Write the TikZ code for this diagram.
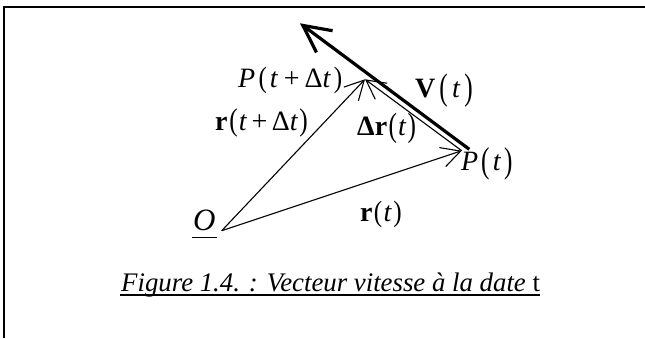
\documentclass[tikz,border=0pt]{standalone}
\usepackage{fontspec}
\setmainfont{Liberation Serif}
\usepackage{graphicx}
\usetikzlibrary{arrows.meta}
% tall parentheses: #1 = vertical scale, #2 = lowering
\newcommand{\lp}[2]{\raisebox{-#2}{\scalebox{0.9}[#1]{(}}}
\newcommand{\rp}[2]{\raisebox{-#2}{\scalebox{0.9}[#1]{)}}}
\begin{document}
\begin{tikzpicture}[x=1pt,y=-1pt,
  lbl/.style={inner sep=0pt, anchor=base west, font=\fontsize{28pt}{33pt}\selectfont},
  captxt/.style={inner sep=0pt, anchor=base west, font=\fontsize{26.8pt}{32pt}\selectfont},
  vec/.style={line width=1.1pt, -{Straight Barb[length=19pt,width=20pt]}},
  vel/.style={line width=3.2pt, -{Straight Barb[length=27pt,width=27pt]}},
  frame/.style={line width=1.3pt},
  uline/.style={line width=1.3pt}]
\useasboundingbox (0,0) rectangle (645,338);
% frame
\draw[frame] (4,338) -- (4,7) -- (645,7);
% points
\coordinate (O) at (221.7,230.7);
\coordinate (P) at (461.7,150.7);
\coordinate (Q) at (365,79.3);
\coordinate (Vs) at (469.3,149.3);
\coordinate (Vt) at (300,23.3);
% vectors
\draw[vec] (O) -- (Q);
\draw[vec] (O) -- (P);
\draw[vec] (P) -- (Q);
\draw[vel] (Vs) -- (Vt);
% labels
\node[lbl] (lQ) at (238,87) {\textit{P}\hspace{0.12em}\lp{1.05}{0.01em}\hspace{0.1em}\textit{t}\hspace{0.2em}+\hspace{0.18em}Δ\textit{t}\hspace{0.1em}\rp{1.05}{0.01em}};
\node[lbl] (lrQ) at (215,130) {\textbf{r}\hspace{0.06em}\lp{1.12}{0.03em}\hspace{0.04em}\textit{t}\hspace{0.16em}+\hspace{0.16em}Δ\textit{t}\hspace{0.04em}\rp{1.12}{0.03em}};
\node[lbl] (lV) at (415,97) {\textbf{V}\hspace{0.14em}\lp{1.32}{0.08em}\hspace{0.16em}\textit{t}\hspace{0.14em}\rp{1.32}{0.08em}};
\node[lbl] (ldr) at (357,135) {\textbf{Δr}\hspace{0.05em}\lp{1.2}{0.05em}\hspace{0.04em}\textit{t}\hspace{0.04em}\rp{1.2}{0.05em}};
\node[lbl] (lP) at (461,170.5) {\textit{P}\hspace{0.1em}\lp{1.28}{0.07em}\hspace{0.12em}\textit{t}\hspace{0.1em}\rp{1.28}{0.07em}};
\node[lbl] (lr) at (360,221.7) {\textbf{r}\hspace{0.04em}\lp{1.05}{0.01em}\hspace{0.05em}\textit{t}\hspace{0.05em}\rp{1.05}{0.01em}};
\node[lbl, font=\fontsize{31pt}{36pt}\selectfont] (lO) at (193,230.7) {\textit{O}};
\draw[uline] ([xshift=-1pt,yshift=-7pt]lO.base west) -- ([xshift=1pt,yshift=-7pt]lO.base east);
\node[captxt] (cap) at (121,291) {\textit{Figure 1.4. : Vecteur vitesse à la date} t};
\draw[uline] ([xshift=-1.5pt,yshift=-4pt]cap.base west) -- ([yshift=-4pt]cap.base east);
\end{tikzpicture}
\end{document}
